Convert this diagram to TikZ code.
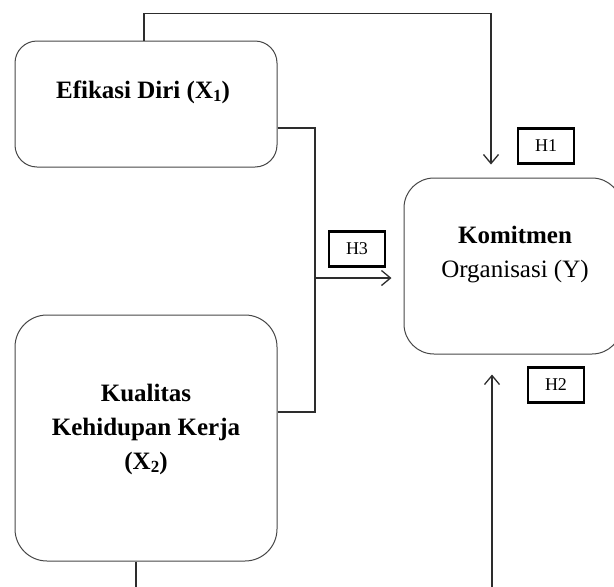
\documentclass[tikz,border=0pt]{standalone}
\usepackage{fontspec}
\setmainfont{Liberation Serif}
\newfontfamily\lblfont{Liberation Serif}
\usetikzlibrary{arrows.meta,positioning,calc}
\definecolor{linegray}{RGB}{45,45,45}
\definecolor{boxgray}{RGB}{70,70,70}
\newcommand{\lowidx}[1]{\raisebox{-0.3ex}{\fontsize{17}{17}\selectfont #1}}
\tikzset{
  varbox/.style={draw=boxgray, line width=1pt, rounded corners=22pt, inner sep=0pt},
  vartext/.style={font=\lblfont\fontsize{25}{34}\selectfont, align=center},
  hypbox/.style={draw=black, line width=2.4pt, minimum width=56pt, minimum height=35pt,
    inner sep=0pt, font=\fontsize{18}{18}\selectfont},
  link/.style={draw=linegray, line width=1.3pt},
  arr/.style={link, -{Straight Barb[length=9pt, width=15pt]}}
}

\begin{document}
\begin{tikzpicture}[x=1pt, y=-1pt]
  \useasboundingbox (0,0) rectangle (614,587);
  % variabel
  \node[varbox, minimum width=262pt, minimum height=126pt,
    label={[vartext, yshift=12pt, xshift=-3pt]center:{\bfseries Efikasi Diri (X\lowidx{1})}}] (x1) at (146,104) {};
  \node[varbox, rounded corners=32pt, minimum width=262pt, minimum height=246pt,
    label={[vartext, yshift=9pt]center:{\bfseries Kualitas}\\{\bfseries Kehidupan Kerja}\\{\bfseries (X\lowidx{2})}}] (x2) at (146,438) {};
  \node[varbox, rounded corners=30pt, minimum width=218pt, minimum height=176pt,
    label={[vartext, yshift=11pt, xshift=2pt]center:{\bfseries Komitmen}\\Organisasi (Y)}] (y) at (513,266) {};
  % hipotesis
  \node[hypbox] (h1) at (546,146) {H1};
  \node[hypbox] (h3) at (357,249) {H3};
  \node[hypbox] (h2) at (556,385) {H2};
  % garis
  \coordinate (j3) at (315,278);
  \coordinate (b1) at (136,595);
  \coordinate (b2) at (492,595);
  \draw[link] ([yshift=-24pt]x1.east) -| (j3);
  \draw[link] ([yshift=26pt]x2.east) -| (j3);
  \draw[arr, shorten >=12pt] (j3) -- (j3 -| y.west);
  \draw[arr, shorten >=13pt] ([xshift=-2pt]x1.north) -- ++(0,-27) -| ([xshift=-22pt]y.north);
  \draw[link] ([xshift=-10pt]x2.south) -- (b1);
  \draw[arr, shorten >=20pt] (b2) -- (b2 |- y.south);
\end{tikzpicture}
\end{document}
